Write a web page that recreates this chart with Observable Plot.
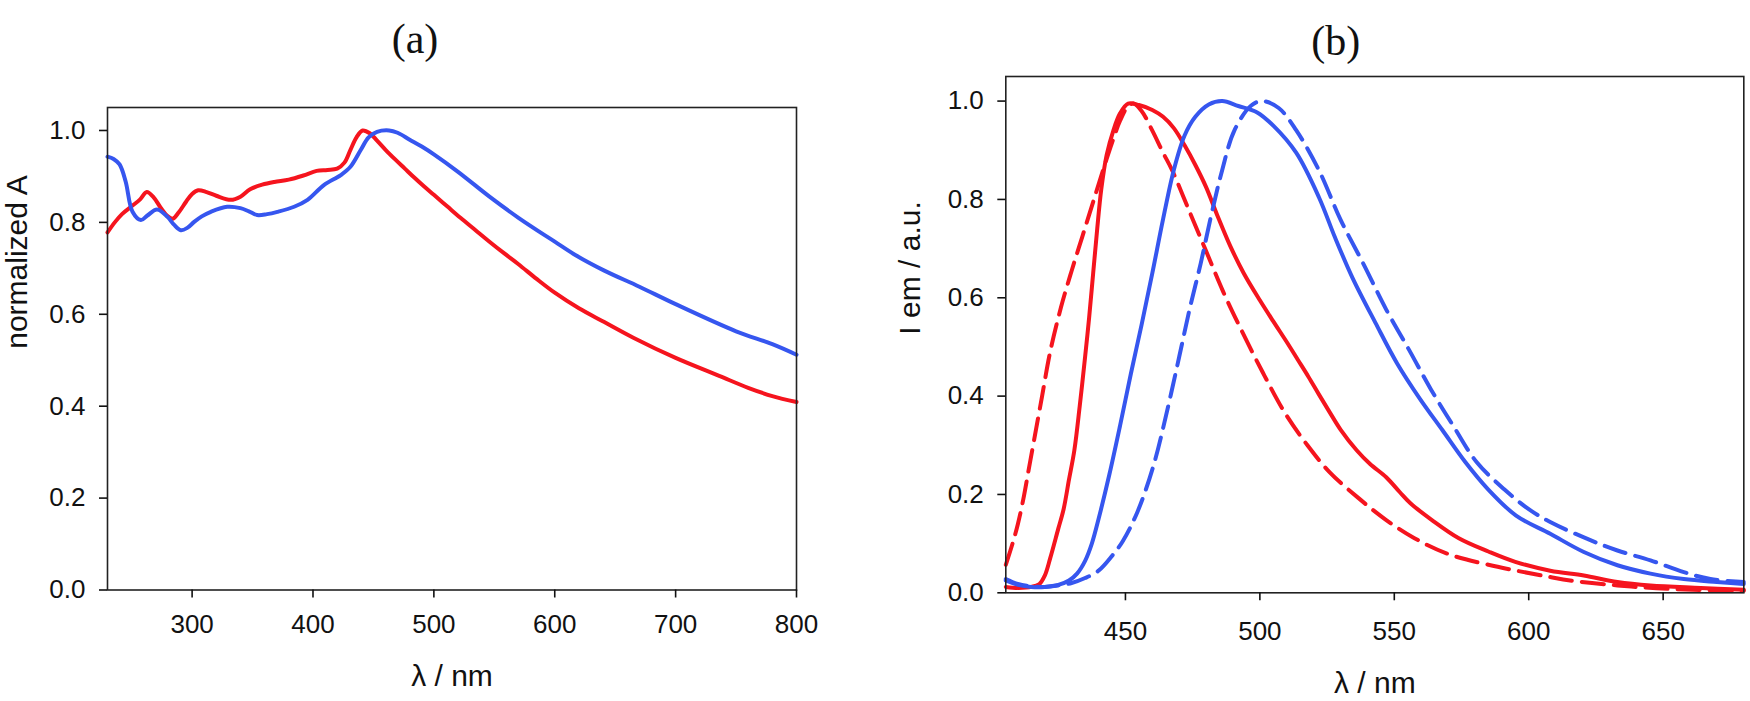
<!DOCTYPE html>
<html><head><meta charset="utf-8">
<script src="https://cdn.jsdelivr.net/npm/d3@7"></script>
<script src="https://cdn.jsdelivr.net/npm/@observablehq/plot@0.6"></script>
<style>
body{margin:0;background:#fff;}
#wrap{position:relative;width:1750px;height:701px;overflow:hidden;background:#fff;}
#wrap svg{position:absolute;top:0;}
</style></head><body><div id="wrap"></div>
<script>
// ---- labels / ticks ----
const titleA = "(a)";
const titleB = "(b)";
const xLabel = "λ / nm";
const yLabelA = "normalized A";
const yLabelB = "I em / a.u.";
const yTicks = [0, 0.2, 0.4, 0.6, 0.8, 1.0];
const xTicksA = [300, 400, 500, 600, 700, 800];
const xTicksB = [450, 500, 550, 600, 650];

// ---- panel (a): normalized absorption ----
const absRedX = [230,236,242,250,257,262.5,268,274,280,284,289,295,300,305,312,320,332,340,348,358,368,380,392,403,412,420,426,431,436,441,447,453,460,468,476,484,492,500,511,522,534,546,558,570,585,600,620,641,665,700,736,760,780,800];
const absRedY = [0.778,0.800,0.818,0.835,0.850,0.866,0.855,0.832,0.813,0.808,0.822,0.845,0.862,0.870,0.866,0.858,0.849,0.856,0.872,0.882,0.888,0.893,0.902,0.912,0.914,0.917,0.930,0.958,0.985,1.0,0.994,0.978,0.958,0.937,0.917,0.897,0.878,0.860,0.835,0.810,0.784,0.758,0.733,0.709,0.677,0.647,0.613,0.583,0.549,0.505,0.466,0.440,0.422,0.409];
const absBlueX = [230,235,240,245,250.7,257.6,263,271,279.6,285,290.7,296,301.7,308,315.5,329,340,347,353.8,362,370.6,384.4,395.5,409,423,431,439.6,446,453,463,470,480,490,500,520,546,570,600,617,641,670,700,750,780,800];
const absBlueY = [0.943,0.938,0.926,0.889,0.823,0.805,0.815,0.828,0.812,0.795,0.783,0.788,0.801,0.813,0.823,0.834,0.831,0.824,0.816,0.818,0.823,0.834,0.849,0.881,0.903,0.921,0.958,0.985,0.997,1.0,0.995,0.980,0.965,0.948,0.910,0.856,0.810,0.758,0.729,0.695,0.660,0.622,0.563,0.535,0.512];

// ---- panel (b): normalized emission ----
const emRedSolidX = [405.5,410,415,418,420,422,425,427,429,431,433,435,436.5,438,439.5,441,443,445.5,448,451,455,460,464,468,472,476,480,484,489,494,500,505,510,514,518,522,526,530,536,541,547,552,556,564,574,585,595,608,620.5,633,645.3,664,680];
const emRedSolidY = [0.012,0.010,0.012,0.018,0.035,0.070,0.130,0.170,0.230,0.290,0.380,0.480,0.560,0.650,0.740,0.820,0.890,0.940,0.975,0.995,0.992,0.982,0.968,0.945,0.910,0.870,0.825,0.770,0.705,0.650,0.595,0.552,0.510,0.475,0.440,0.403,0.367,0.332,0.290,0.262,0.235,0.205,0.182,0.148,0.111,0.084,0.063,0.045,0.035,0.022,0.015,0.010,0.006];
const emRedDashX = [405.5,408,410,412,414,416,419,422,426,430,434,438,442,445,448,451,453,456,460,464,467.4,473.7,480,486.3,492.6,501,509.3,517.7,526,536.6,547,557.5,570,585,608,615.4,633,651.6,680];
const emRedDashY = [0.057,0.100,0.140,0.190,0.250,0.310,0.400,0.490,0.580,0.655,0.725,0.795,0.865,0.915,0.960,0.990,0.995,0.980,0.940,0.895,0.859,0.777,0.695,0.613,0.540,0.449,0.366,0.300,0.245,0.193,0.148,0.111,0.079,0.057,0.032,0.025,0.015,0.008,0.004];
const emBlueSolidX = [405.5,410,415,420,425,429,432,435,437.5,440,444,448,452,456,460,464,468,472,476,481,486,492,499,505,513.5,522,528,534.5,543,551,559.6,568,576.4,584.8,595.3,608,620.5,633,645.3,657.7,670,680];
const emBlueSolidY = [0.025,0.016,0.012,0.012,0.016,0.025,0.039,0.065,0.100,0.150,0.240,0.340,0.445,0.545,0.650,0.760,0.860,0.930,0.968,0.993,1.0,0.990,0.977,0.950,0.895,0.804,0.722,0.640,0.549,0.467,0.394,0.330,0.266,0.211,0.157,0.120,0.083,0.056,0.039,0.028,0.022,0.018];
const emBlueDashX = [405.5,410,415,420,425,430,435,440,445,449,454.5,460.5,465.5,470,474,478,482,486,490.5,496.8,501,507,513.5,522,530,538.7,547,555.5,563.8,572,580.6,591,600,608,622.5,633,645.3,657.7,667.6,680];
const emBlueDashY = [0.028,0.018,0.013,0.012,0.015,0.020,0.030,0.045,0.075,0.105,0.165,0.260,0.370,0.480,0.580,0.670,0.770,0.860,0.940,0.991,1.0,0.986,0.941,0.859,0.759,0.667,0.576,0.494,0.412,0.339,0.266,0.210,0.170,0.144,0.108,0.086,0.066,0.042,0.028,0.022];

// ---- styling ----
const RED = "#f5141e";
const BLUE = "#3656ef";
const SANS = "'Liberation Sans', Arial, sans-serif";
const SERIF = "'Liberation Serif', 'Times New Roman', serif";
const dash = "22,10";

const pts = (xs, ys) => xs.map((x, i) => ({x, y: ys[i]}));
const fmt1 = d3.format(".1f");

function panel({width, margins, xDomain, xTicks, series, title, titleDx, titleDy, yLabel, yLabelDx, xLabelDy, xTickPad}) {
  return Plot.plot({
    width, height: 701,
    marginLeft: margins[0], marginRight: margins[1], marginTop: margins[2], marginBottom: margins[3],
    style: {fontFamily: SANS, fontSize: "26px", color: "#111", background: "transparent", overflow: "visible"},
    x: {domain: xDomain},
    y: {domain: [0, 1.05]},
    marks: [
      ...series.map(s => Plot.line(pts(s.x, s.y), {x: "x", y: "y", stroke: s.color, strokeWidth: 4, strokeDasharray: s.dash, curve: "catmull-rom", strokeLinejoin: "round"})),
      Plot.frame({stroke: "#222", strokeWidth: 1.6}),
      Plot.axisX({ticks: xTicks, tickSize: 8, tickPadding: xTickPad, fontSize: 26, label: null, tickFormat: d => String(d), strokeWidth: 1.6}),
      Plot.axisY({ticks: yTicks, tickSize: 8, tickPadding: 14, fontSize: 26, label: null, tickFormat: fmt1, strokeWidth: 1.6}),
      Plot.text([title], {text: d => d, frameAnchor: "top", dx: titleDx, dy: titleDy, fontSize: 42, fontFamily: SERIF, fill: "#111"}),
      Plot.text([xLabel], {text: d => d, frameAnchor: "bottom", lineAnchor: "bottom", dy: xLabelDy, fontSize: 30, fill: "#111"}),
      Plot.text([yLabel], {text: d => d, frameAnchor: "left", rotate: -90, dx: yLabelDx, fontSize: 30, fill: "#111"})
    ]
  });
}

const A = panel({
  width: 870, margins: [107, 74, 107, 111.5], xDomain: [230, 800], xTicks: xTicksA,
  series: [
    {x: absRedX, y: absRedY, color: RED},
    {x: absBlueX, y: absBlueY, color: BLUE}
  ],
  title: titleA, titleDx: -37, titleDy: -84, yLabel: yLabelA, yLabelDx: -90, xLabelDy: 96, xTickPad: 17
});
const B = panel({
  width: 880, margins: [135.3, 6.7, 76, 108.7], xDomain: [405.5, 680], xTicks: xTicksB,
  series: [
    {x: emRedDashX, y: emRedDashY, color: RED, dash},
    {x: emRedSolidX, y: emRedSolidY, color: RED},
    {x: emBlueDashX, y: emBlueDashY, color: BLUE, dash},
    {x: emBlueSolidX, y: emBlueSolidY, color: BLUE}
  ],
  title: titleB, titleDx: -39, titleDy: -51, yLabel: yLabelB, yLabelDx: -95, xLabelDy: 100, xTickPad: 21
});
A.style.left = "0px";
B.style.left = "870px";
const wrap = document.getElementById("wrap");
wrap.appendChild(A);
wrap.appendChild(B);
</script>
</body></html>
